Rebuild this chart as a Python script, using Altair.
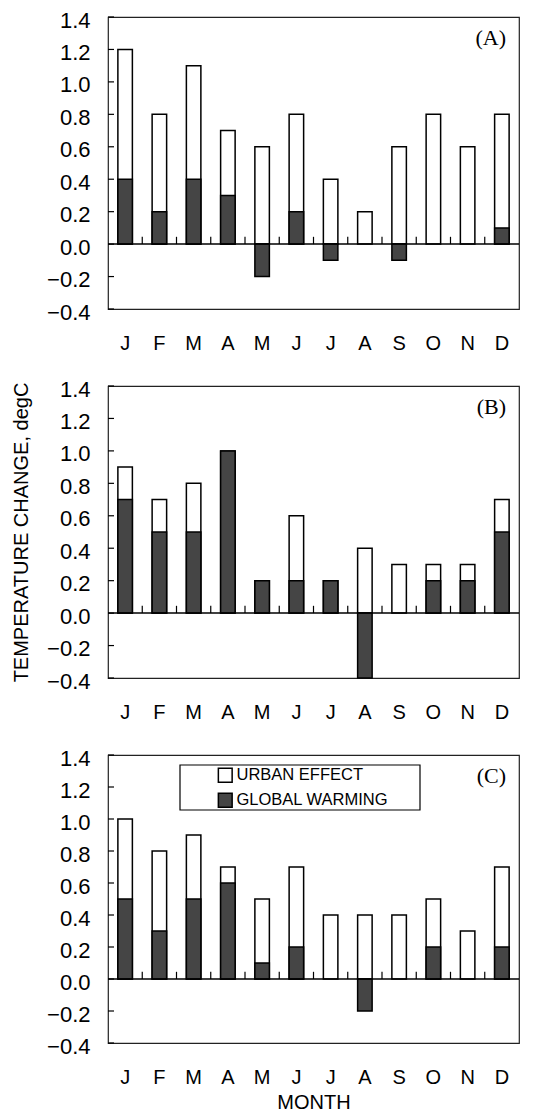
import altair as alt
import pandas as pd

months = ["Jan", "Feb", "Mar", "Apr", "May", "Jun", "Jul", "Aug", "Sep", "Oct", "Nov", "Dec"]
series_names = ["URBAN EFFECT", "GLOBAL WARMING"]
panel_labels = ["(A)", "(B)", "(C)"]

urban_a = [1.2, 0.8, 1.1, 0.7, 0.6, 0.8, 0.4, 0.2, 0.6, 0.8, 0.6, 0.8]
global_a = [0.4, 0.2, 0.4, 0.3, -0.2, 0.2, -0.1, 0.0, -0.1, 0.0, 0.0, 0.1]
urban_b = [0.9, 0.7, 0.8, 1.0, 0.2, 0.6, 0.2, 0.4, 0.3, 0.3, 0.3, 0.7]
global_b = [0.7, 0.5, 0.5, 1.0, 0.2, 0.2, 0.2, -0.4, 0.0, 0.2, 0.2, 0.5]
urban_c = [1.0, 0.8, 0.9, 0.7, 0.5, 0.7, 0.4, 0.4, 0.4, 0.5, 0.3, 0.7]
global_c = [0.5, 0.3, 0.5, 0.6, 0.1, 0.2, 0.0, -0.2, 0.0, 0.2, 0.0, 0.2]

y_ticks = [-0.4, -0.2, 0.0, 0.2, 0.4, 0.6, 0.8, 1.0, 1.2, 1.4]

FONT = "Liberation Sans"
W = 411
DARK = "#454545"


def panel(urban, glob, label, height, ytitle, xtitle, legend):
    rows = []
    for m, u, g in zip(months, urban, glob):
        rows.append({"month": m, "series": series_names[0], "value": u})
        if g != 0:
            rows.append({"month": m, "series": series_names[1], "value": g})
    df = pd.DataFrame(rows)

    xscale = alt.Scale(domain=months, paddingInner=0, paddingOuter=0)
    xaxis = alt.Axis(
        title=xtitle, labelExpr="substring(datum.label, 0, 1)", labelAngle=0,
        labelFontSize=20, labelPadding=24, titleFontSize=20, titlePadding=5,
        titleFontWeight="normal", ticks=False, domain=False, grid=False,
    )
    yscale = alt.Scale(domain=[-0.4, 1.4], nice=False, zero=False)
    yaxis = alt.Axis(
        title=ytitle, values=y_ticks, format=".1f", labelFontSize=22,
        labelPadding=18, labelOffset=3, titleFontSize=20, titlePadding=15,
        titleFontWeight="normal", ticks=False, domain=False, grid=False,
    )
    if legend:
        leg = alt.Legend(
            title=None, orient="none", legendX=109, legendY=12, padding=0,
            symbolType="square", symbolSize=190, symbolStrokeColor="black",
            symbolStrokeWidth=1.5, labelFont=FONT, labelFontSize=16.5,
            labelColor="black", rowPadding=4, labelOffset=3,
        )
    else:
        leg = None
    color = alt.Color(
        "series:N", scale=alt.Scale(domain=series_names, range=["white", DARK]), legend=leg
    )
    x = alt.X("month:N", sort=months, scale=xscale, axis=xaxis)
    y = alt.Y("value:Q", scale=yscale, axis=yaxis)

    base = alt.Chart(df)
    white = base.transform_filter(alt.datum.series == series_names[0]).mark_bar(
        size=14.5, stroke="black", strokeWidth=1.5
    ).encode(x=x, y=y, color=color)
    dark = base.transform_filter(alt.datum.series == series_names[1]).mark_bar(
        size=14.5, stroke="black", strokeWidth=1.5
    ).encode(x=x, y=y, color=color)

    zero = alt.Chart(pd.DataFrame({"v": [0.0]})).mark_rule(
        color="black", strokeWidth=1.5
    ).encode(y=alt.Y("v:Q", scale=yscale, axis=yaxis))

    zt = alt.Chart(pd.DataFrame({"month": months[1:], "v": [0.0] * 11, "v2": [0.045] * 11})).mark_rule(
        color="black", strokeWidth=1.2
    ).encode(
        x=alt.X("month:N", sort=months, scale=xscale, axis=xaxis, bandPosition=0),
        y=alt.Y("v:Q", scale=yscale, axis=yaxis),
        y2="v2:Q",
    )

    lt = alt.Chart(pd.DataFrame({"v": y_ticks})).mark_rule(
        color="black", strokeWidth=1.2
    ).encode(
        x=alt.value(0), x2=alt.value(6), y=alt.Y("v:Q", scale=yscale, axis=yaxis)
    )

    txt = alt.Chart(pd.DataFrame({"label": [label]})).mark_text(
        font="Liberation Serif", fontSize=22, align="right", baseline="middle", color="black"
    ).encode(x=alt.value(398), y=alt.value(21), text="label:N")

    layers = [white, dark, zero, zt, lt, txt]
    if legend:
        box = alt.Chart(pd.DataFrame({"k": [1]})).mark_rect(
            fill="white", stroke="black", strokeWidth=1.2
        ).encode(x=alt.value(72), x2=alt.value(312), y=alt.value(10), y2=alt.value(55))
        layers = [box] + layers
    return alt.layer(*layers).properties(width=W, height=height)


pa = panel(urban_a, global_a, panel_labels[0], 292, "", "", False)
pb = panel(urban_b, global_b, panel_labels[1], 292, "TEMPERATURE CHANGE, degC", "", False)
pc = panel(urban_c, global_c, panel_labels[2], 288, "", "MONTH", True)

chart = (
    alt.vconcat(pa, pb, pc, spacing=23)
    .resolve_scale(color="independent")
    .resolve_legend(color="independent")
    .properties(padding={"left": 2, "top": 0, "right": 4, "bottom": 0})
    .configure_view(stroke="#222222", strokeWidth=1.2)
    .configure_axis(labelFont=FONT, titleFont=FONT, labelColor="black", titleColor="black")
)

chart.save("out.html", embed_options={"renderer": "svg", "actions": False})
